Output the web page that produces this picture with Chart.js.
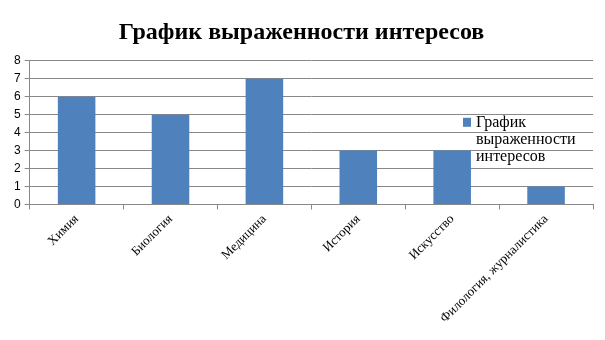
<!DOCTYPE html>
<html lang="ru">
<head>
<meta charset="UTF-8">
<title>График выраженности интересов</title>
<script src="https://cdn.jsdelivr.net/npm/chart.js"></script>
<style>
  html, body { margin: 0; padding: 0; background: #fff; }
  #wrap { width: 605px; height: 340px; }
</style>
</head>
<body>
<div id="wrap"><canvas id="myChart" width="605" height="340"></canvas></div>
<script>
const categories = ['Химия', 'Биология', 'Медицина', 'История', 'Искусство', 'Филология, журналистика'];
const values = [6, 5, 7, 3, 3, 1];
const seriesName = 'График выраженности интересов';
const legendLines = ['График', 'выраженности', 'интересов'];

// legend drawn inside the plot, like the original
const insideLegend = {
  id: 'insideLegend',
  afterDraw(chart) {
    const ctx = chart.ctx;
    const area = chart.chartArea;
    const x = area.right - 130;
    const y = area.top + 57;
    ctx.save();
    ctx.fillStyle = chart.data.datasets[0].backgroundColor;
    ctx.fillRect(x, y, 8, 9);
    ctx.fillStyle = '#000';
    ctx.font = '16px "Liberation Serif"';
    ctx.textBaseline = 'middle';
    legendLines.forEach((line, i) => {
      ctx.fillText(line, x + 13, y + 5 + i * 17);
    });
    ctx.restore();
  }
};

const ctx = document.getElementById('myChart').getContext('2d');
new Chart(ctx, {
  type: 'bar',
  data: {
    labels: categories,
    datasets: [{
      label: seriesName,
      data: values,
      backgroundColor: '#4f81bd',
      barPercentage: 0.4,
      categoryPercentage: 1.0
    }]
  },
  options: {
    responsive: false,
    animation: false,
    layout: { padding: { left: 10, right: 12, top: 0, bottom: 12 } },
    plugins: {
      legend: { display: false },
      tooltip: { enabled: false },
      title: {
        display: true,
        text: seriesName,
        color: '#000',
        font: { family: '"Liberation Serif"', size: 24, weight: 'bold' },
        padding: { top: 18, bottom: 14 }
      }
    },
    scales: {
      x: {
        grid: { drawOnChartArea: false, drawTicks: true, tickLength: 5, color: '#888' },
        border: { color: '#888' },
        ticks: {
          color: '#000',
          font: { family: '"Liberation Serif"', size: 13 },
          maxRotation: 45,
          minRotation: 45,
          padding: 2
        }
      },
      y: {
        min: 0,
        max: 8,
        ticks: {
          stepSize: 1,
          color: '#000',
          font: { family: '"Liberation Sans"', size: 12 },
          padding: 4
        },
        grid: { color: '#888', tickLength: 5 },
        border: { color: '#888' }
      }
    }
  },
  plugins: [insideLegend]
});
</script>
</body>
</html>
